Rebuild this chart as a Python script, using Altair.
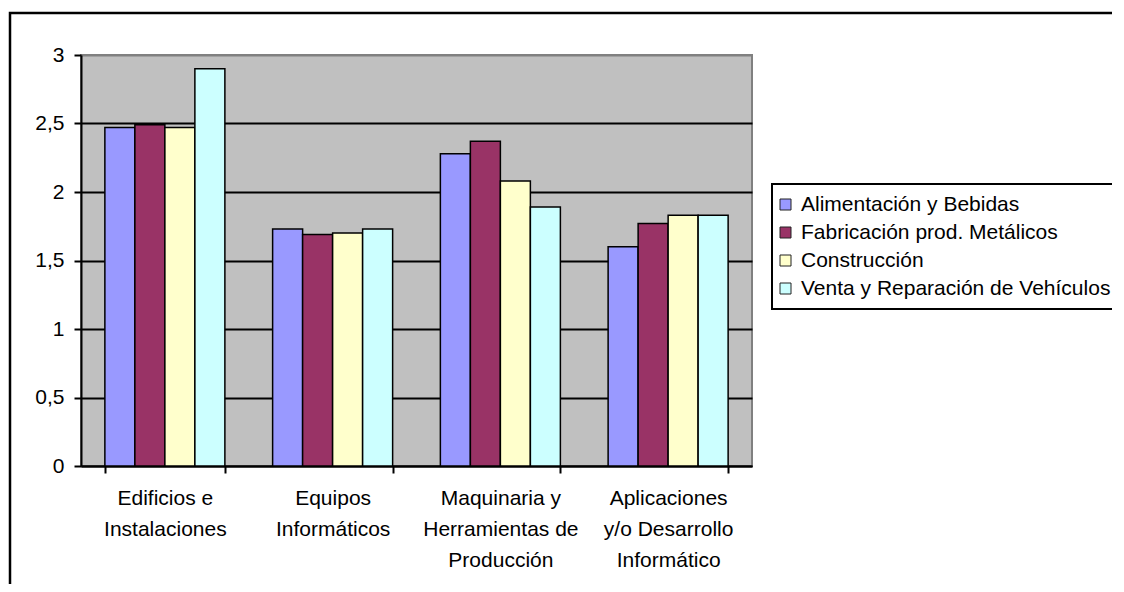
import altair as alt
import pandas as pd

categories = [
    "Edificios e\nInstalaciones",
    "Equipos\nInformáticos",
    "Maquinaria y\nHerramientas de\nProducción",
    "Aplicaciones\ny/o Desarrollo\nInformático",
]
series = [
    "Alimentación y Bebidas",
    "Fabricación prod. Metálicos",
    "Construcción",
    "Venta y Reparación de Vehículos",
]
alimentacion = [2.47, 1.73, 2.28, 1.60]
fabricacion = [2.49, 1.69, 2.37, 1.77]
construccion = [2.47, 1.70, 2.08, 1.83]
venta = [2.90, 1.73, 1.89, 1.83]
colors = ["#9999FF", "#993366", "#FFFFCC", "#CCFFFF"]
y_ticks = [0, 0.5, 1, 1.5, 2, 2.5, 3]

rows = []
for s, vals in zip(series, [alimentacion, fabricacion, construccion, venta]):
    for c, v in zip(categories, vals):
        rows.append({"Categoría": c, "Serie": s, "Valor": v})
df = pd.DataFrame(rows)

FONT = "Liberation Sans"

frame = alt.Chart(pd.DataFrame({"k": [0]})).mark_rect(
    fill="transparent", stroke="black", strokeWidth=2.5
).encode(
    x=alt.value(-71), x2=alt.value(1300), y=alt.value(-42), y2=alt.value(900)
)

bars = alt.Chart(df).mark_bar(stroke="black", strokeWidth=1.5).encode(
    x=alt.X(
        "Categoría:N",
        sort=categories,
        scale=alt.Scale(paddingInner=0.2846, paddingOuter=0.1423),
        axis=alt.Axis(
            title=None,
            labelAngle=0,
            labelExpr="split(datum.label, '\\n')",
            labelFont=FONT,
            labelFontSize=21,
            labelLineHeight=31,
            labelPadding=14,
            labelColor="black",
            labelLimit=400,
            labelOverlap=False,
            tickBand="extent",
            tickSize=7,
            tickColor="black",
            tickWidth=2,
            domainColor="black",
            domainWidth=2,
        ),
    ),
    xOffset=alt.XOffset(
        "Serie:N", sort=series, scale=alt.Scale(paddingInner=0, paddingOuter=0)
    ),
    y=alt.Y(
        "Valor:Q",
        scale=alt.Scale(domain=[0, 3], nice=False),
        axis=alt.Axis(
            title=None,
            values=y_ticks,
            labelExpr="replace(toString(datum.value), '.', ',')",
            labelFont=FONT,
            labelFontSize=21,
            labelColor="black",
            labelPadding=10,
            tickSize=7,
            tickColor="black",
            tickWidth=2,
            domainColor="black",
            domainWidth=2,
            grid=True,
            gridColor={"condition": {"test": "datum.value >= 3", "value": "#808080"}, "value": "black"},
            gridWidth=2,
        ),
    ),
    color=alt.Color(
        "Serie:N",
        sort=series,
        scale=alt.Scale(domain=series, range=colors),
        legend=alt.Legend(
            title=None,
            orient="none",
            legendX=691,
            legendY=129,
            direction="vertical",
            strokeColor="black",
            fillColor="white",
            padding=10,
            symbolType="square",
            symbolSize=121,
            symbolOffset=-7,
            symbolStrokeColor="#222222",
            symbolStrokeWidth=1,
            labelFont=FONT,
            labelFontSize=21,
            labelColor="black",
            labelOffset=5,
            labelLimit=500,
            rowPadding=6,
        ),
    ),
)

chart = (
    alt.layer(frame, bars)
    .properties(
        width=671,
        height=411,
        autosize=alt.AutoSizeParams(type="none"),
        padding={"left": 73, "top": 47, "right": 360, "bottom": 118},
    )
    .configure(font=FONT)
    .configure_view(fill="#C0C0C0", stroke="#808080", strokeWidth=2)
    .configure_legend(strokeWidth=2)
)

chart.save("out.html", embed_options={"renderer": "svg", "actions": False})
